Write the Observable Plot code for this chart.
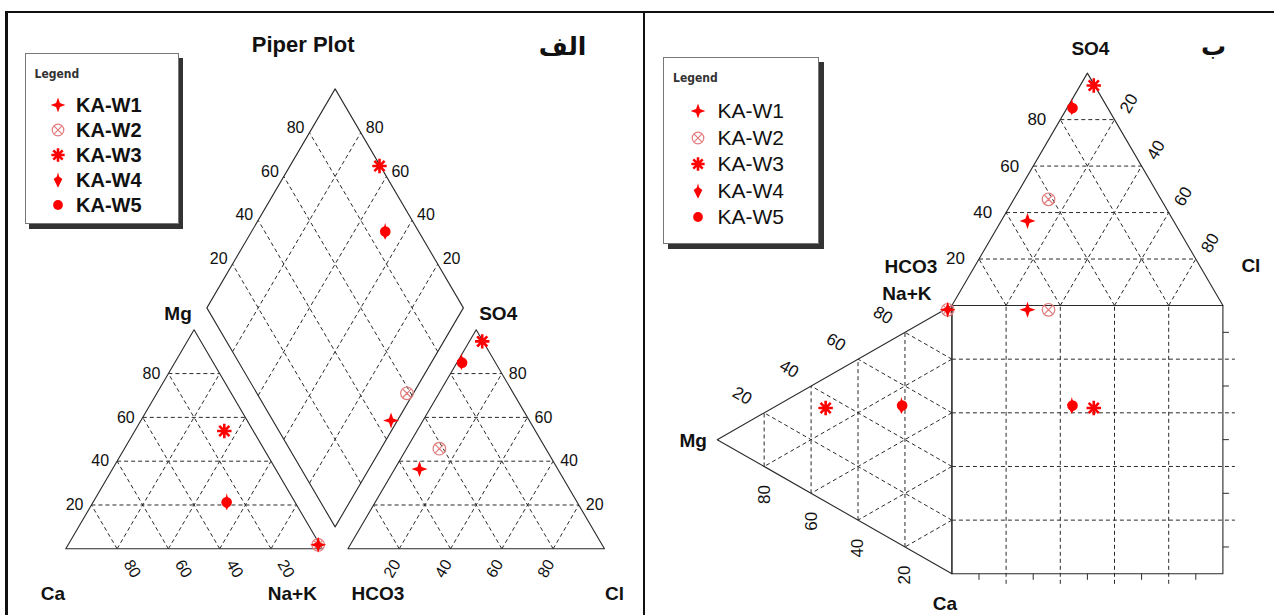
<!DOCTYPE html>
<html><head><meta charset="utf-8">
<script src="https://cdn.jsdelivr.net/npm/d3@7"></script>
<script src="https://cdn.jsdelivr.net/npm/@observablehq/plot@0.6"></script>
<style>
html,body{margin:0;padding:0;background:#fff;}
#wrap{position:relative;width:1274px;height:615px;overflow:hidden;font-family:"Liberation Sans",Arial,sans-serif;background:#fff;}
.panel{position:absolute;top:0;}
.rule{position:absolute;background:#111;}
.legend{position:absolute;background:#fff;border:1px solid #777;box-sizing:border-box;}
.legend .ttl{position:absolute;font-family:"DejaVu Sans Condensed","DejaVu Sans",sans-serif;font-weight:bold;font-size:12px;color:#333;line-height:14px;}
.legend .row{position:absolute;display:flex;align-items:center;height:24px;color:#111;white-space:nowrap;}
.legend svg{display:block;}
</style></head><body><div id="wrap"></div>
<script>
// ---------------- data (percent of meq) ----------------
const samples = ["KA-W1", "KA-W2", "KA-W3", "KA-W4", "KA-W5"];
const caPct   = [0.7, 0.7, 11.3, 26.5, 26.7];
const mgPct   = [1.8, 1.8, 53.8, 21.5, 21.2];
const nakPct  = [97.5, 97.5, 34.9, 52.0, 52.1];
const hco3Pct = [53.9, 41.5, 0.3, 13.0, 13.0];
const so4Pct  = [36.4, 45.7, 94.7, 85.5, 85.0];
const clPct   = [9.7, 12.8, 5.0, 1.5, 2.0];
const gridTicks = [20, 40, 60, 80];
const minorTicks = [10, 30, 50, 70, 90];

const rows = samples.map((name, i) => ({name, ca: caPct[i], mg: mgPct[i], nak: nakPct[i],
  hco3: hco3Pct[i], so4: so4Pct[i], cl: clPct[i]}));

// ---------------- symbols ----------------
const RED = "#ff0000";
const rad = size => Math.sqrt(size / Math.PI);
const star4 = {draw(c, size) { const r = rad(size), k = r * 0.26;
  c.moveTo(0, -r); c.lineTo(k, -k); c.lineTo(r, 0); c.lineTo(k, k); c.lineTo(0, r);
  c.lineTo(-k, k); c.lineTo(-r, 0); c.lineTo(-k, -k); c.closePath(); }};
const circleX = {draw(c, size) { const r = rad(size), a = r * 0.62;
  c.moveTo(r, 0); c.arc(0, 0, r, 0, 2 * Math.PI);
  c.moveTo(-a, -a); c.lineTo(a, a); c.moveTo(a, -a); c.lineTo(-a, a); }};
const burst = {draw(c, size) { const r = rad(size);
  for (let i = 0; i < 4; i++) { const t = i * Math.PI / 4;
    c.moveTo(-r * Math.cos(t), -r * Math.sin(t)); c.lineTo(r * Math.cos(t), r * Math.sin(t)); } }};
const arrowDown = {draw(c, size) { const r = rad(size);
  c.moveTo(0, -r); c.lineTo(0.14 * r, -0.45 * r); c.lineTo(0.55 * r, -0.12 * r); c.lineTo(0, r);
  c.lineTo(-0.55 * r, -0.12 * r); c.lineTo(-0.14 * r, -0.45 * r); c.closePath(); }};
const disc = {draw(c, size) { const r = rad(size); c.moveTo(r, 0); c.arc(0, 0, r, 0, 2 * Math.PI); }};

const styles = {
  "KA-W1": {symbol: star4, r: 8, fill: RED, stroke: "none", strokeWidth: 0},
  "KA-W2": {symbol: circleX, r: 6.3, fill: "none", stroke: "#e27a7a", strokeWidth: 1.2},
  "KA-W3": {symbol: burst, r: 7.2, fill: "none", stroke: RED, strokeWidth: 2.6},
  "KA-W4": {symbol: arrowDown, r: 8.5, fill: RED, stroke: "none", strokeWidth: 0},
  "KA-W5": {symbol: disc, r: 5.3, fill: RED, stroke: "none", strokeWidth: 0}
};
const drawOrder = ["KA-W2", "KA-W1", "KA-W3", "KA-W4", "KA-W5"];

const H = Math.sqrt(3) / 2 * 100; // triangle height in units (side = 100)
const LINE = "#2a2a2a";
const DASH = "4,3";
const FONT = "Liberation Sans, Arial, sans-serif";

function seg(a, b) { return {x1: a[0], y1: a[1], x2: b[0], y2: b[1]}; }
function lbl(p, text) { return {x: p[0], y: p[1], text}; }
function dotMarks(pts) {
  return drawOrder.map(name => {
    const s = styles[name];
    return Plot.dot(pts.filter(d => d.name === name), {x: "x", y: "y", symbol: s.symbol, r: s.r,
      fill: s.fill, stroke: s.stroke, strokeWidth: s.strokeWidth});
  });
}
function poly(pts) { return Plot.line(pts, {x: d => d[0], y: d => d[1], stroke: LINE, strokeWidth: 1.1}); }
function txt(data, o) { return Plot.text(data, Object.assign({x: "x", y: "y", text: "text", fill: "#111",
  fontFamily: FONT, fontSize: 16}, o)); }
function arabic(t, dx, dy) {
  return Plot.text([t], {frameAnchor: "top-right", text: d => d, dx, dy, textAnchor: "middle",
    lineAnchor: "middle", fontSize: 25, fontWeight: "bold", fontFamily: "DejaVu Sans, sans-serif", fill: "#111"});
}

const wrap = document.getElementById("wrap");

// =============== LEFT PANEL: Piper plot ===============
{
  const P = {W: 644, Hpx: 615, ox: 65.3, oy: 548.3, kx: 2.565, ky: 2.529};
  const G = 10;
  const cat = (mg, na) => [na + mg / 2, mg * H / 100];
  const an = (so4, cl) => [100 + G + cl + so4 / 2, so4 * H / 100];
  const dia = (s, sp) => [100 + G / 2 + (sp - s) / 2, (G + s + sp) * H / 100];

  const grid = [];
  for (const v of gridTicks) {
    grid.push(seg(cat(v, 0), cat(v, 100 - v)), seg(cat(0, v), cat(100 - v, v)), seg(cat(0, 100 - v), cat(100 - v, 0)));
    grid.push(seg(an(v, 0), an(v, 100 - v)), seg(an(0, v), an(100 - v, v)), seg(an(0, 100 - v), an(100 - v, 0)));
    grid.push(seg(dia(v, 0), dia(v, 100)), seg(dia(0, v), dia(100, v)));
  }
  const pts = [];
  for (const d of rows) {
    const a = cat(d.mg, d.nak), b = an(d.so4, d.cl), c = dia(d.ca + d.mg, d.cl + d.so4);
    pts.push({name: d.name, x: a[0], y: a[1]}, {name: d.name, x: b[0], y: b[1]}, {name: d.name, x: c[0], y: c[1]});
  }
  const plot = Plot.plot({
    width: P.W, height: P.Hpx, margin: 0,
    x: {domain: [(0 - P.ox) / P.kx, (P.W - P.ox) / P.kx], range: [0, P.W], axis: null},
    y: {domain: [(P.oy - P.Hpx) / P.ky, P.oy / P.ky], range: [P.Hpx, 0], axis: null},
    style: {background: "transparent", overflow: "visible"},
    marks: [
      Plot.link(grid, {x1: "x1", y1: "y1", x2: "x2", y2: "y2", stroke: LINE, strokeWidth: 1, strokeDasharray: DASH}),
      poly([cat(0, 0), cat(0, 100), cat(100, 0), cat(0, 0)]),
      poly([an(0, 0), an(0, 100), an(100, 0), an(0, 0)]),
      poly([dia(0, 0), dia(100, 0), dia(100, 100), dia(0, 100), dia(0, 0)]),
      txt(gridTicks.map(v => lbl(cat(v, 0), String(v))), {textAnchor: "end", dx: -8}),
      txt(gridTicks.map(v => lbl(cat(0, 100 - v), String(v))), {rotate: 60, dx: 15, dy: 20}),
      txt(gridTicks.map(v => lbl(an(0, v), String(v))), {rotate: -60, dx: -7, dy: 20}),
      txt(gridTicks.map(v => lbl(an(v, 100 - v), String(v))), {textAnchor: "start", dx: 7}),
      txt(gridTicks.map(v => lbl(dia(100, v), String(v))), {textAnchor: "end", dx: -5, dy: -5}),
      txt(gridTicks.map(v => lbl(dia(v, 100), String(v))), {textAnchor: "start", dx: 5, dy: -5}),
      txt([lbl(cat(0, 0), "Ca")], {fontWeight: "bold", fontSize: 19, dx: -13, dy: 45}),
      txt([lbl(cat(0, 100), "Na+K")], {fontWeight: "bold", fontSize: 19, dx: -30, dy: 45}),
      txt([lbl(an(0, 0), "HCO3")], {fontWeight: "bold", fontSize: 19, dx: 30, dy: 45}),
      txt([lbl(an(0, 100), "Cl")], {fontWeight: "bold", fontSize: 19, dx: 10, dy: 45}),
      txt([lbl(cat(100, 0), "Mg")], {fontWeight: "bold", fontSize: 19, dx: -16, dy: -16}),
      txt([lbl(an(100, 0), "SO4")], {fontWeight: "bold", fontSize: 19, dx: 22, dy: -16}),
      txt([lbl(dia(100, 100), "Piper Plot")], {fontWeight: "bold", fontSize: 22, dx: -32, dy: -44}),
      arabic("الف", -82, 46),
      ...dotMarks(pts)
    ]
  });
  plot.classList.add("panel");
  plot.style.left = "0px";
  wrap.appendChild(plot);
}

// =============== RIGHT PANEL: Durov-type plot ===============
{
  const left = 644;
  const P = {W: 630, Hpx: 615, ox: 951.4 - left, oy: 573.3, kx: 2.71, ky: 2.683};
  const up = (so4, cl) => [cl + so4 / 2, 100 + so4 * H / 100];
  const lt = (mg, na) => [-mg * H / 100, na + mg / 2];

  const grid = [], solidTicks = [];
  for (const v of gridTicks) {
    grid.push(seg(up(v, 0), up(v, 100 - v)), seg(up(0, v), up(100 - v, v)), seg(up(0, 100 - v), up(100 - v, 0)));
    grid.push(seg(lt(v, 0), lt(v, 100 - v)), seg(lt(0, v), lt(100 - v, v)), seg(lt(0, 100 - v), lt(100 - v, 0)));
    grid.push(seg([v, -10 / P.ky], [v, 100]), seg([0, v], [100 + 12 / P.kx, v]));
  }
  for (const v of minorTicks) {
    solidTicks.push(seg([v, 0], [v, -6 / P.ky]), seg([100, v], [100 + 6 / P.kx, v]));
  }
  const pts = [];
  for (const d of rows) {
    const a = up(d.so4, d.cl), b = lt(d.mg, d.nak);
    pts.push({name: d.name, x: a[0], y: a[1]}, {name: d.name, x: b[0], y: b[1]}, {name: d.name, x: a[0], y: b[1]});
  }
  const plot = Plot.plot({
    width: P.W, height: P.Hpx, margin: 0,
    x: {domain: [(0 - P.ox) / P.kx, (P.W - P.ox) / P.kx], range: [0, P.W], axis: null},
    y: {domain: [(P.oy - P.Hpx) / P.ky, P.oy / P.ky], range: [P.Hpx, 0], axis: null},
    style: {background: "transparent", overflow: "visible"},
    marks: [
      Plot.link(grid, {x1: "x1", y1: "y1", x2: "x2", y2: "y2", stroke: LINE, strokeWidth: 1, strokeDasharray: DASH}),
      Plot.link(solidTicks, {x1: "x1", y1: "y1", x2: "x2", y2: "y2", stroke: LINE, strokeWidth: 1}),
      poly([up(0, 0), up(0, 100), up(100, 0), up(0, 0)]),
      poly([lt(0, 0), lt(0, 100), lt(100, 0), lt(0, 0)]),
      poly([[0, 0], [100, 0], [100, 100], [0, 100], [0, 0]]),
      txt(gridTicks.map(v => lbl(up(v, 0), String(v))), {textAnchor: "end", dx: -14, fontSize: 17}),
      txt(gridTicks.map(v => lbl(up(100 - v, v), String(v))), {rotate: -60, dx: 14.5, dy: -16, fontSize: 17}),
      txt(gridTicks.map(v => lbl(lt(100 - v, v), String(v))), {rotate: 30, dx: -22, dy: -17, fontSize: 17}),
      txt(gridTicks.map(v => lbl(lt(v, 0), String(v))), {rotate: -90, dy: 28, fontSize: 17}),
      txt([lbl(up(100, 0), "SO4")], {fontWeight: "bold", fontSize: 19, dx: 3, dy: -24}),
      txt([lbl(up(0, 100), "Cl")], {fontWeight: "bold", fontSize: 19, dx: 28, dy: -40}),
      txt([lbl(lt(0, 100), "HCO3")], {fontWeight: "bold", fontSize: 19, dx: -41, dy: -39}),
      txt([lbl(lt(0, 100), "Na+K")], {fontWeight: "bold", fontSize: 19, dx: -45, dy: -12}),
      txt([lbl(lt(100, 0), "Mg")], {fontWeight: "bold", fontSize: 19, dx: -24, dy: 1}),
      txt([lbl(lt(0, 0), "Ca")], {fontWeight: "bold", fontSize: 19, dx: -7, dy: 30}),
      arabic("ب", -61, 46),
      ...dotMarks(pts)
    ]
  });
  plot.classList.add("panel");
  plot.style.left = left + "px";
  wrap.appendChild(plot);
}

// =============== frame rules ===============
function rule(l, t, w, h) { const d = document.createElement("div"); d.className = "rule";
  Object.assign(d.style, {left: l + "px", top: t + "px", width: w + "px", height: h + "px"}); wrap.appendChild(d); }
rule(5, 10.7, 1269, 2.5);
rule(5, 10.7, 2.5, 605);
rule(643, 10.7, 2.2, 605);

// =============== legends ===============
function legend(o) {
  const box = document.createElement("div");
  box.className = "legend";
  Object.assign(box.style, {left: o.left + "px", top: o.top + "px", width: o.w + "px", height: o.h + "px",
    boxShadow: o.shadow});
  const t = document.createElement("div");
  t.className = "ttl"; t.textContent = "Legend";
  Object.assign(t.style, {left: o.titleX + "px", top: (o.titleY - 7) + "px"});
  box.appendChild(t);
  samples.forEach((name, i) => {
    const s = styles[name];
    const row = document.createElement("div");
    row.className = "row";
    Object.assign(row.style, {left: (o.symX - 10) + "px", top: (o.rowY[i] - 12) + "px",
      fontSize: o.fontSize + "px", fontWeight: o.fontWeight, fontFamily: FONT});
    const svg = d3.create("svg").attr("width", 20).attr("height", 20);
    svg.append("path").attr("transform", "translate(10,10)")
      .attr("d", d3.symbol(s.symbol, Math.PI * s.r * s.r * 0.85)())
      .attr("fill", s.fill).attr("stroke", s.stroke).attr("stroke-width", s.strokeWidth);
    row.appendChild(svg.node());
    const lab = document.createElement("span");
    lab.textContent = name;
    lab.style.marginLeft = (o.textX - o.symX - 10) + "px";
    row.appendChild(lab);
    box.appendChild(row);
  });
  wrap.appendChild(box);
}
legend({left: 24.5, top: 53.3, w: 154, h: 171, shadow: "4px 5px 0 #333", titleX: 9, titleY: 20,
  symX: 32.5, textX: 50.5, rowY: [51, 76, 101, 126, 151], fontSize: 20, fontWeight: "bold"});
legend({left: 663, top: 56.7, w: 156, h: 187, shadow: "5px 5px 0 #333", titleX: 9, titleY: 20.5,
  symX: 33.5, textX: 53.5, rowY: [53.5, 80, 106.5, 133, 159.5], fontSize: 21, fontWeight: "normal"});
</script></body></html>
